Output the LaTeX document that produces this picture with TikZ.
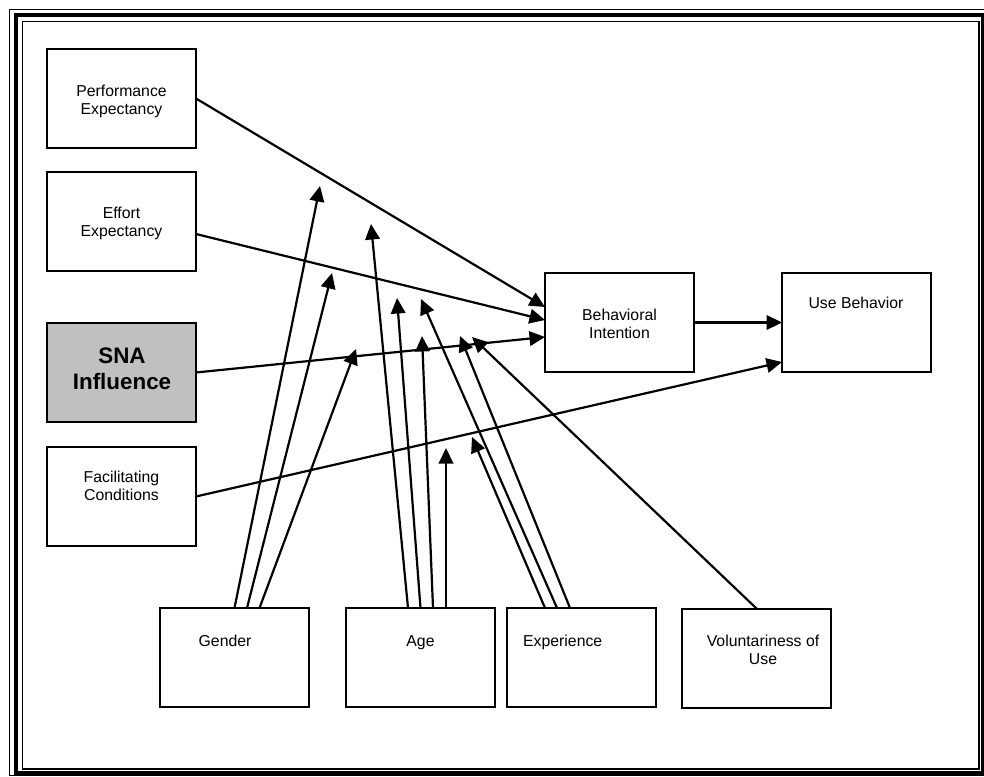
\documentclass[tikz,border=0pt]{standalone}
\usepackage{fontspec}
\setmainfont{Liberation Sans}
\usetikzlibrary{arrows.meta,calc}
\begin{document}
\begin{tikzpicture}[x=1pt,y=-1pt,
  box/.style={draw,line width=2pt,minimum width=149pt,minimum height=99pt,inner sep=0pt,outer sep=0pt},
  txt/.style={font=\fontsize{15.8}{18}\selectfont,align=center,inner sep=0pt},
  bigtxt/.style={font=\fontsize{22.4}{25.5}\selectfont\bfseries,align=center,inner sep=0pt},
  link/.style={line width=2.2pt,-{Triangle[length=15.5pt,width=14.5pt]}}]
\useasboundingbox (0,0) rectangle (984,776);

% page border: thin - thick - thin
\draw[line width=1.3pt] (9.5,9.5) rectangle (986,775.5);
\draw[line width=4pt] (15.5,15) rectangle (982.5,772.5);
\draw[line width=1.5pt] (22.5,21.5) rectangle (979,769);

% constructs
\node[box] (pe)  at (121.5,98.5)  {};
\node[box] (ee)  at (121.5,221.5) {};
\node[box,fill={rgb,255:red,192;green,192;blue,192}] (sna) at (121.5,372.5) {};
\node[box] (fc)  at (121.5,496.5) {};
\node[box] (bi)  at (619.5,322.5) {};
\node[box] (ub)  at (856.5,322.5) {};
\node[box] (gen) at (234.5,657.5) {};
\node[box] (age) at (420.5,657.5) {};
\node[box] (exp) at (581.5,657.5) {};
\node[box] (vol) at (756.5,658)   {};

% labels
\node[txt] (peT)  at (121.5,101.5) {Performance\\Expectancy};
\node[txt] (eeT)  at (121.5,223.5) {Effort\\Expectancy};
\node[bigtxt] (snaT) at (122,369) {SNA\\Influence};
\node[txt] (fcT)  at (121.5,485.5) {Facilitating\\Conditions};
\node[txt] (biT)  at (619.5,324) {Behavioral\\Intention};
\node[txt,anchor=base] (ubT) at (856,308.5) {Use Behavior};
\node[txt,anchor=base west] (genT) at (198.5,646) {Gender};
\node[txt,anchor=base] (ageT) at (420.5,646) {Age};
\node[txt,anchor=base west] (expT) at (523,646) {Experience};
\node[txt] (volT) at (763,649.5) {Voluntariness of\\Use};

% free ends of the moderating arrows
\coordinate (g1) at (320,186);
\coordinate (g2) at (332,273);
\coordinate (g3) at (356,349);
\coordinate (a1) at (371,224);
\coordinate (a2) at (397,298);
\coordinate (a3) at (422,336);
\coordinate (a4) at (446,448);
\coordinate (e1) at (472,437);
\coordinate (e2) at (421,299);
\coordinate (e3) at (460,336);
\coordinate (v1) at (472,337);

% main paths
\draw[link] (pe.east)  -- ($(bi.north west)+(0,34)$);
\draw[link] ($(ee.east)+(0,12.5)$) -- ($(bi.north west)+(0,47)$);
\draw[link] (sna.east) -- ($(bi.north west)+(0,64)$);
\draw[link] (bi.east)  -- (ub.west);
\draw[link] (fc.east)  -- ($(ub.south west)+(0,-10)$);

% gender
\draw[link] (gen.north) -- (g1);
\draw[link] ($(gen.north)+(12.5,0)$) -- (g2);
\draw[link] ($(gen.north)+(25,0)$) -- (g3);
% age
\draw[link] ($(age.north)+(-12.5,0)$) -- (a1);
\draw[link] (age.north) -- (a2);
\draw[link] ($(age.north)+(12.5,0)$) -- (a3);
\draw[link] ($(age.north)+(25.5,0)$) -- (a4);
% experience
\draw[link] ($(exp.north)+(-36.5,0)$) -- (e1);
\draw[link] ($(exp.north)+(-24.5,0)$) -- (e2);
\draw[link] ($(exp.north)+(-11.5,0)$) -- (e3);
% voluntariness
\draw[link] (vol.north) -- (v1);
\end{tikzpicture}
\end{document}
